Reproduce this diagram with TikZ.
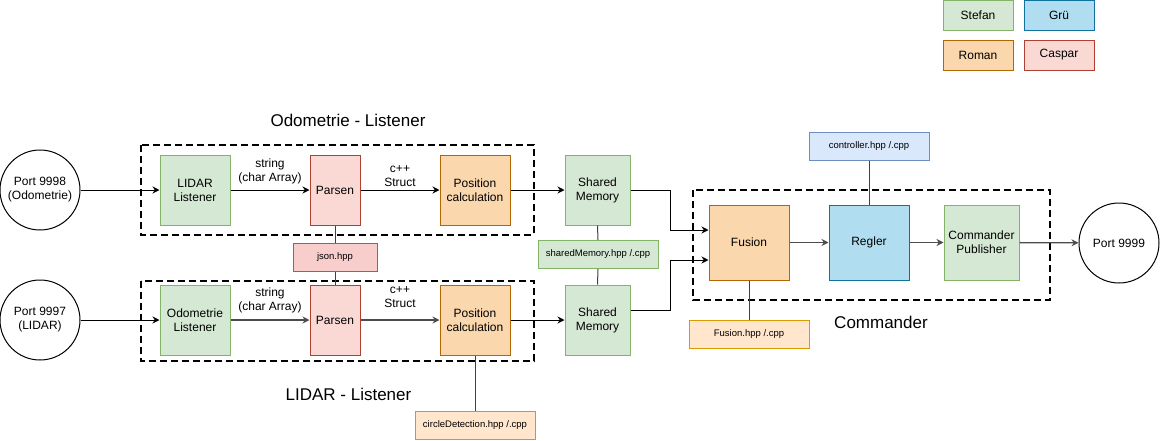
\documentclass[tikz,border=0pt]{standalone}
\usepackage{fontspec}
\setmainfont{Liberation Sans}
\usepackage{tikz}
\usetikzlibrary{positioning, arrows.meta}
\definecolor{stefanfill}{HTML}{D5E8D4}
\definecolor{stefanline}{HTML}{82B366}
\definecolor{gruefill}{HTML}{B1DDF0}
\definecolor{grueline}{HTML}{10739E}
\definecolor{romanfill}{HTML}{FAD7AC}
\definecolor{romanline}{HTML}{B46504}
\definecolor{casparfill}{HTML}{FAD9D5}
\definecolor{casparline}{HTML}{AE4132}
\definecolor{jsonfill}{HTML}{F8CECC}
\definecolor{jsonline}{HTML}{B85450}
\definecolor{ctrlfill}{HTML}{DAE8FC}
\definecolor{ctrlline}{HTML}{6C8EBF}
\definecolor{filefill}{HTML}{FFE6CC}
\definecolor{fileline}{HTML}{D79B00}

\begin{document}
\begin{tikzpicture}[x=1pt, y=-1pt,
    box/.style={rectangle, line width=1pt, minimum width=70pt, minimum height=70pt, align=center, inner sep=1pt, font=\fontsize{12}{14}\selectfont},
    stefan/.style={box, fill=stefanfill, draw=stefanline},
    gruebox/.style={box, fill=gruefill, draw=grueline},
    roman/.style={box, fill=romanfill, draw=romanline},
    caspar/.style={box, fill=casparfill, draw=casparline},
    filebox/.style={rectangle, line width=1pt, minimum width=120pt, minimum height=28pt, inner sep=1pt, font=\fontsize{9.5}{11}\selectfont},
    port/.style={circle, draw, line width=1pt, minimum size=80pt, inner sep=0pt, align=center, font=\fontsize{12}{14}\selectfont},
    legend/.style={rectangle, line width=1pt, minimum width=70pt, minimum height=30pt, font=\fontsize{12}{14}\selectfont},
    group/.style={draw, line width=2pt, dash pattern=on 7pt off 4pt},
    title/.style={font=\fontsize{17}{20}\selectfont},
    arrow/.style={-{Stealth[length=7pt, width=7pt]}, line width=1pt},
    link/.style={line width=1pt, draw=black!75},
    lbl/.style={font=\fontsize{12}{14}\selectfont, align=center, inner sep=1pt}
]
    \useasboundingbox (0,0) rectangle (1160,440);

    % === LEGENDE ===
    \node[legend, fill=stefanfill, draw=stefanline] (legStefan) at (978,15) {Stefan};
    \node[legend, fill=gruefill, draw=grueline] (legGrue) at (1059,15) {Grü};
    \node[legend, fill=romanfill, draw=romanline] (legRoman) at (978,55) {Roman};
    \node[legend, fill=casparfill, draw=casparline] (legCaspar) at (1059,55) {Caspar};

    % === ODOMETRIE - LISTENER ===
    \draw[group] (140.5,145) rectangle (533.5,234.5);
    \node[title] (odoTitle) at (348,120) {Odometrie - Listener};
    \node[port] (port98) at (40,190) {Port 9998\\(Odometrie)};
    \node[stefan] (lidarL) at (195,190) {LIDAR\\Listener};
    \node[caspar, minimum width=50pt] (parsenA) at (335,190) {Parsen};
    \node[roman] (posA) at (475,190) {Position\\calculation};
    \node[stefan, minimum width=65pt] (smA) at (597.5,190) {Shared\\Memory};

    \draw[arrow] (port98) -- (lidarL);
    \draw[arrow] (lidarL) -- node[lbl, above, yshift=5pt] {string\\(char Array)} (parsenA);
    \draw[arrow] (parsenA) -- node[lbl, above, yshift=2pt] {c++\\Struct} (posA);
    \draw[arrow] (posA) -- (smA);

    % === GEMEINSAME DATEIEN ===
    \node[filebox, minimum width=84pt, fill=jsonfill, draw=jsonline] (json) at (335,257) {json.hpp};
    \node[filebox, fill=stefanfill, draw=stefanline] (smFile) at (598,254.5) {sharedMemory.hpp /.cpp};

    % === LIDAR - LISTENER ===
    \draw[group] (140.5,280.5) rectangle (533.5,360.5);
    \node[title] (lidTitle) at (348.5,394) {LIDAR - Listener};
    \node[port] (port97) at (40,320) {Port 9997\\(LIDAR)};
    \node[stefan] (odoL) at (195,320) {Odometrie\\Listener};
    \node[caspar, minimum width=50pt] (parsenB) at (335,320) {Parsen};
    \node[roman] (posB) at (475,320) {Position\\calculation};
    \node[stefan, minimum width=65pt] (smB) at (597.5,320) {Shared\\Memory};
    \node[filebox, fill=filefill, draw=fileline] (circFile) at (475,425) {circleDetection.hpp /.cpp};

    \draw[arrow] (port97) -- (odoL);
    \draw[arrow, draw=black!70, line width=1.3pt] (odoL) -- node[lbl, above, yshift=5pt] {string\\(char Array)} (parsenB);
    \draw[arrow, draw=black!70, line width=1.3pt] (parsenB) -- node[lbl, above, yshift=11pt] {c++\\Struct} (posB);
    \draw[arrow] (posB) -- (smB);

    \draw[link] (parsenA.south) -- (json.north) (json.south) -- (parsenB.north);
    \draw[link] (smA.south) -- (smFile.north) (smFile.south) -- (smB.north);
    \draw[link] (posB.south) -- (circFile.north);

    % === COMMANDER ===
    \draw[group] (693,190) rectangle (1050,300);
    \node[title] (cmdTitle) at (881,322) {Commander};
    \node[roman, minimum width=80pt, minimum height=75pt] (fusion) at (749,242.5) {Fusion};
    \node[gruebox, minimum width=80pt, minimum height=75pt] (regler) at (869,242.5) {Regler};
    \node[stefan, minimum width=75pt, minimum height=75pt] (cmdPub) at (981.5,242.5) {Commander\\Publisher};
    \node[port] (port99) at (1119,243) {Port 9999};
    \node[filebox, fill=ctrlfill, draw=ctrlline] (ctrlFile) at (869,146) {controller.hpp /.cpp};
    \node[filebox, fill=filefill, draw=fileline] (fusFile) at (749,334.5) {Fusion.hpp /.cpp};

    \draw[arrow] (smA.east) -- ++(39.5,0) |- ([yshift=12.5pt]fusion.west);
    \draw[arrow] ([yshift=10pt]smB.east) -- ++(39.5,0) |- ([yshift=-17.5pt]fusion.west);
    \draw[arrow, draw=black!70, line width=1.3pt] (fusion) -- (regler);
    \draw[arrow, draw=black!70, line width=1.3pt] (regler) -- (cmdPub);
    \draw[arrow, draw=black!70, line width=1.3pt] (cmdPub) -- (port99);

    \draw[link] (ctrlFile.south) -- (regler.north);
    \draw[link] (fusion.south) -- (fusFile.north);

\end{tikzpicture}
\end{document}
